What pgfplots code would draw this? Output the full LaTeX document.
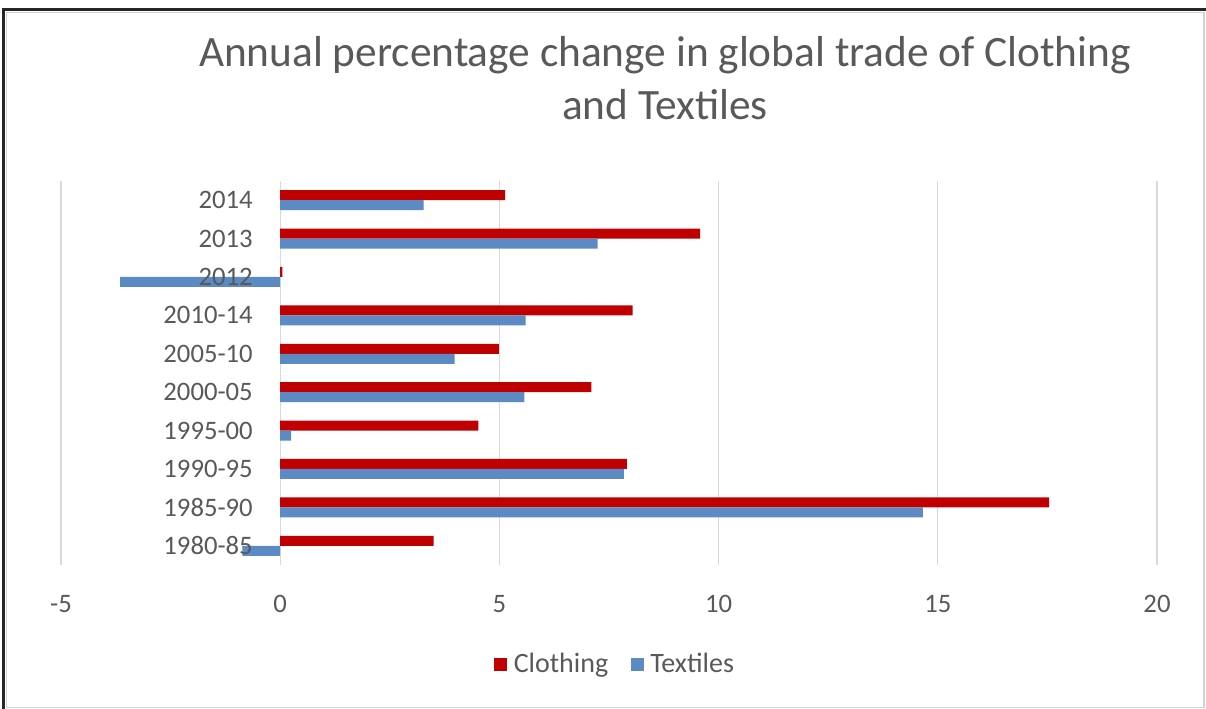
\documentclass[border=0pt]{standalone}
\usepackage{pgfplots}
\pgfplotsset{compat=1.18}
\usepackage{fontspec}
\setmainfont{Carlito}
\definecolor{txt}{HTML}{595959}
\definecolor{cloth}{HTML}{C00000}
\definecolor{tex}{HTML}{5B8AC5}
\definecolor{gridc}{HTML}{D9D9D9}
\pgfplotsset{
  myframe/.style={
    at={(45.75pt,108pt)}, anchor=south west,
    width=822pt, height=288pt, scale only axis,
    xmin=-5, xmax=20, ymin=-0.5, ymax=9.5,
    axis line style={draw=none},
    major tick style={draw=none},
    tick label style={txt, font=\fontsize{20}{24}\selectfont},
  }
}
\begin{document}
\begin{tikzpicture}
\path[use as bounding box] (0,0) rectangle (904.5pt,531.75pt);
\fill[white] (0,0) rectangle (904.5pt,531.75pt);
\draw[gray!35, line width=1.1pt] (4.9pt,1.1pt) rectangle (903pt,522.4pt);
\draw[black!85, line width=2.25pt] (1.5pt,524.6pt) -- (904.5pt,524.6pt);
\draw[black!85, line width=2.25pt] (2.6pt,0pt) -- (2.6pt,525.7pt);
\node[txt, anchor=center, font=\fontsize{32.5}{38}\selectfont] at (498.75pt,490.5pt) {Annual percentage change in global trade of Clothing};
\node[txt, anchor=center, font=\fontsize{32.5}{38}\selectfont] at (498.75pt,453pt) {and Textiles};
\begin{axis}[
  myframe,
  xbar, bar width=7.5pt,
  xtick={-5,0,5,10,15,20},
  xticklabels={-5,0,5,10,15,20},
  ytick={0,1,2,3,4,5,6,7,8,9},
  yticklabels={},
  xmajorgrids=true, ymajorgrids=false,
  major grid style={draw=gridc, line width=0.9pt},
  xticklabel style={anchor=center, inner sep=0pt, yshift=-29.25pt},
  legend style={at={(0.506,-0.258)}, anchor=center, draw=none, fill=none,
    legend columns=2, font=\fontsize{21}{25}\selectfont, text=txt,
    /tikz/every even column/.append style={column sep=15pt},
    legend cell align=left},
  legend image code/.code={\fill[#1] (0pt,-4.9pt) rectangle (9.8pt,4.9pt); \path (12.5pt,0pt);},
]
\addplot[fill=cloth, draw=none, bar shift=3.75pt] coordinates {
(3.50,0) (17.54,1) (7.91,2) (4.52,3) (7.10,4) (4.99,5) (8.04,6) (0.05,7) (9.58,8) (5.13,9)};
\addplot[fill=tex, draw=none, bar shift=-3.75pt] coordinates {
(-0.86,0) (14.66,1) (7.84,2) (0.25,3) (5.57,4) (3.98,5) (5.60,6) (-3.65,7) (7.24,8) (3.27,9)};
\legend{Clothing,Textiles}
\end{axis}
\begin{axis}[
  myframe,
  xtick=\empty,
  ytick={0,1,2,3,4,5,6,7,8,9},
  yticklabels={1980-85,1985-90,1990-95,1995-00,2000-05,2005-10,2010-14,2012,2013,2014},
  yticklabel style={anchor=east, inner sep=0pt, xshift=144pt},
]
\end{axis}
\end{tikzpicture}
\end{document}
